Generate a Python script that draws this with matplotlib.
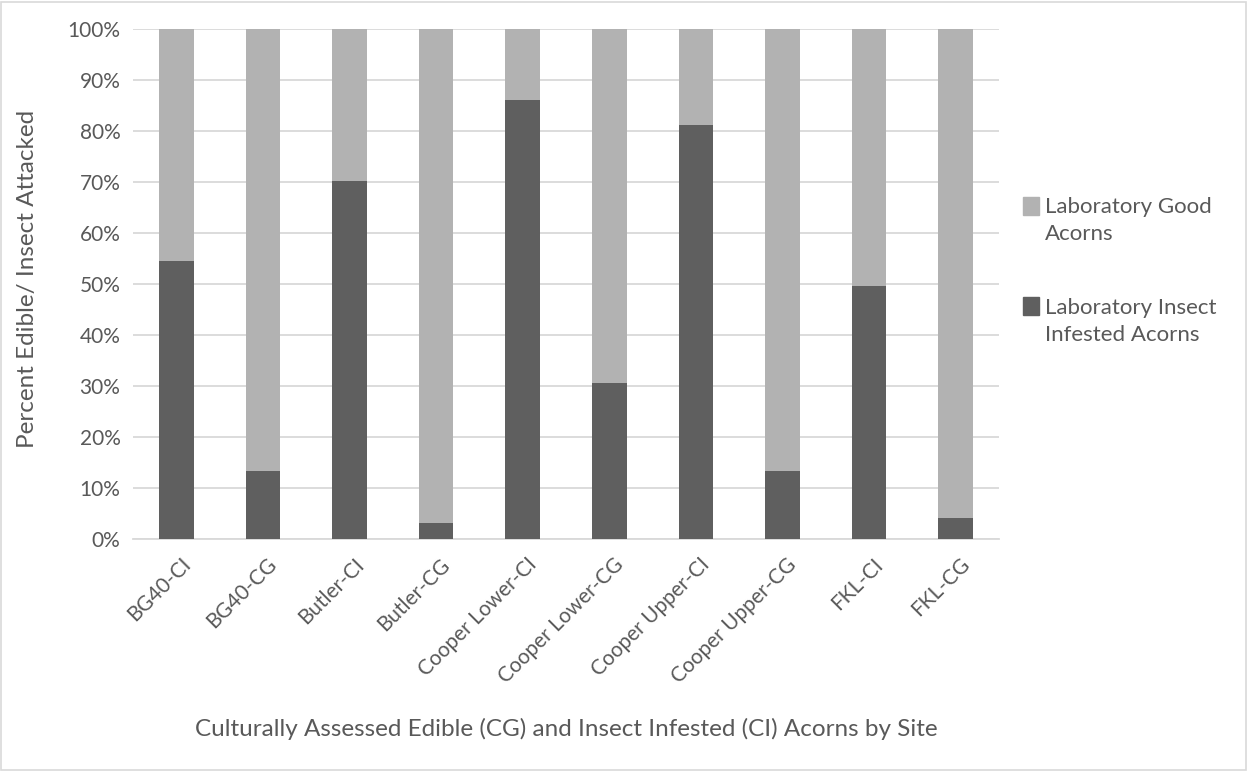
import numpy as np
import matplotlib
matplotlib.use("Agg")
import matplotlib.pyplot as plt
import matplotlib.transforms as mtransforms
from matplotlib.patches import Rectangle, Patch

plt.rcParams['font.family'] = ['Lato', 'DejaVu Sans']

sites = ["BG40-CI", "BG40-CG", "Butler-CI", "Butler-CG", "Cooper Lower-CI",
         "Cooper Lower-CG", "Cooper Upper-CI", "Cooper Upper-CG", "FKL-CI", "FKL-CG"]
# percent of acorns found insect infested in the lab
infested = [54.6, 13.4, 70.2, 3.1, 86.0, 30.5, 81.2, 13.4, 49.7, 4.1]
good = [100 - v for v in infested]

DARK = "#5f5f5f"
LIGHT = "#b2b2b2"
TXT = "#595959"
GRID = "#d9d9d9"

fig = plt.figure(figsize=(12.47, 7.71), dpi=100)
ax = fig.add_axes([133/1247, 1 - 539/771, (999-133)/1247, (539-29)/771])

x = np.arange(len(sites))
ax.bar(x, infested, width=0.4, color=DARK, zorder=3)
ax.bar(x, good, width=0.4, bottom=infested, color=LIGHT, zorder=3)

ax.set_xlim(-0.5, len(sites) - 0.5)
ax.set_ylim(0, 100)
ax.set_yticks(np.arange(0, 101, 10))
ax.set_yticklabels([str(v) + "%" for v in range(0, 101, 10)])
ax.set_xticks(x)
ax.set_xticklabels(sites, rotation=45, ha="right", rotation_mode="anchor")
ax.tick_params(axis="both", length=0, labelsize=15, colors=TXT)
ax.tick_params(axis="x", pad=11)
ax.tick_params(axis="y", pad=9)
shift = mtransforms.ScaledTranslation(4/100, 0, fig.dpi_scale_trans)
for lab in ax.get_xticklabels():
    lab.set_transform(lab.get_transform() + shift)

ax.yaxis.grid(True, color=GRID, linewidth=1.3, zorder=0)
for s in ["top", "right", "left"]:
    ax.spines[s].set_visible(False)
ax.spines["bottom"].set_color(GRID)
ax.spines["bottom"].set_linewidth(1.3)

ax.set_ylabel("Percent Edible/ Insect Attacked", fontsize=17.5, color=TXT)
ax.yaxis.set_label_coords(-0.11, 0.51)
ax.set_xlabel("Culturally Assessed Edible (CG) and Insect Infested (CI) Acorns by Site",
              fontsize=17.5, color=TXT)
ax.xaxis.set_label_coords(0.5, -0.35)

handles = [Patch(color=LIGHT), Patch(color=DARK)]
labels = ["Laboratory Good\nAcorns", "Laboratory Insect\nInfested Acorns"]
leg = fig.legend(handles, labels, loc="upper left", bbox_to_anchor=(1012/1247, 1 - 186/771),
                 frameon=False, fontsize=16, labelcolor=TXT, handlelength=0.7,
                 handleheight=0.7, handletextpad=0.3, labelspacing=2.4, borderpad=0)
for t in leg.get_texts():
    t.set_linespacing(1.45)
for h in leg.legend_handles:
    h.set_height(13)
    h.set_y(h.get_y() + 10)

fig.patches.append(Rectangle((0.001, 0.001), 0.998, 0.997, transform=fig.transFigure,
                             fill=False, edgecolor=GRID, linewidth=1.2))

fig.savefig("out.png", dpi=100)
